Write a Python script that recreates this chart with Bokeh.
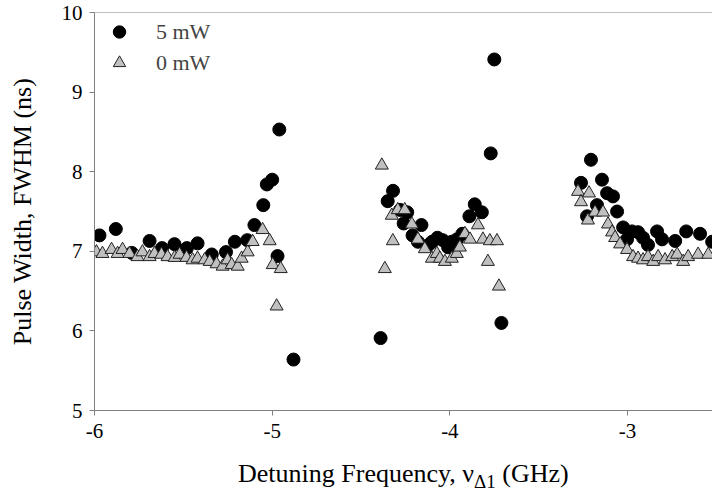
from bokeh.plotting import figure
from bokeh.models import Range1d, Span, Legend, LegendItem, FixedTicker, PrintfTickFormatter, Div
from bokeh.layouts import column
from bokeh.embed import file_html
from bokeh.resources import INLINE

# 5 mW series (circles)
x_5mw = [-5.972, -5.88, -5.79, -5.69, -5.62, -5.55, -5.48, -5.42, -5.34, -5.26,
         -5.21, -5.14, -5.10, -5.05, -5.03, -5.00, -4.96, -4.97, -4.88,
         -4.39, -4.35, -4.32, -4.28, -4.24, -4.26, -4.21, -4.18, -4.16, -4.12,
         -4.10, -4.07, -4.04, -4.01, -3.99, -3.96, -3.93, -3.89, -3.86, -3.82,
         -3.77, -3.75, -3.71,
         -3.262, -3.206, -3.228, -3.172, -3.144, -3.115, -3.082, -3.059, -3.025,
         -3.003, -2.975, -2.941, -2.913, -2.885, -2.834, -2.806, -2.732, -2.670,
         -2.592, -2.524]
y_5mw = [7.20, 7.28, 6.98, 7.13, 7.04, 7.09, 7.04, 7.10, 6.96, 6.99,
         7.12, 7.14, 7.33, 7.58, 7.84, 7.90, 8.53, 6.94, 5.64,
         5.91, 7.63, 7.76, 7.52, 7.49, 7.35, 7.20, 7.12, 7.33, 7.08,
         7.12, 7.17, 7.14, 7.05, 7.12, 7.15, 7.22, 7.44, 7.59, 7.49,
         8.23, 9.41, 6.10,
         7.86, 8.15, 7.44, 7.58, 7.90, 7.73, 7.69, 7.50, 7.30,
         7.15, 7.25, 7.24, 7.17, 7.08, 7.25, 7.15, 7.13, 7.25,
         7.22, 7.12]

# 0 mW series (triangles)
x_0mw = [-5.989, -5.955, -5.904, -5.870, -5.842, -5.803, -5.758, -5.730, -5.690, -5.662,
         -5.623, -5.589, -5.549, -5.521, -5.482, -5.448, -5.420, -5.380, -5.352, -5.313,
         -5.279, -5.251, -5.228, -5.194, -5.172, -5.138, -5.110, -5.054, -5.014, -4.997,
         -4.952, -4.975,
         -4.383, -4.366, -4.321, -4.327, -4.293, -4.254, -4.214, -4.180, -4.141, -4.101,
         -4.073, -4.056, -4.028, -3.989, -3.961, -3.944, -3.915, -3.887, -3.842, -3.814,
         -3.775, -3.735, -3.786, -3.724,
         -3.279, -3.262, -3.217, -3.223, -3.183, -3.138, -3.110, -3.087, -3.070, -3.042,
         -3.003, -2.969, -2.941, -2.913, -2.885, -2.856, -2.828, -2.789, -2.749, -2.721,
         -2.687, -2.659, -2.603, -2.546]
y_0mw = [6.99, 6.97, 7.02, 6.97, 7.02, 6.97, 6.93, 6.99, 6.93, 6.97,
         6.96, 6.93, 6.92, 6.96, 6.92, 6.89, 6.91, 6.89, 6.87, 6.84,
         6.81, 6.89, 6.83, 6.81, 6.91, 6.99, 7.12, 7.27, 7.13, 6.83,
         6.78, 6.31,
         8.08, 6.78, 7.13, 7.45, 7.52, 7.52, 7.34, 7.15, 7.03, 6.91,
         6.97, 6.91, 6.87, 6.91, 6.97, 7.05, 7.22, 7.15, 7.33, 7.15,
         7.13, 7.13, 6.87, 6.56,
         7.75, 7.62, 7.73, 7.39, 7.49, 7.49, 7.34, 7.24, 7.17, 7.09,
         7.02, 6.93, 6.91, 6.89, 6.93, 6.87, 6.93, 6.89, 6.93, 6.96,
         6.87, 6.93, 6.96, 6.96]

x_ticks = [-6, -5, -4, -3]
y_ticks = [5, 6, 7, 8, 9, 10]
series_names = ["5 mW", "0 mW"]
y_title = "Pulse Width, FWHM (ns)"

FONT = "Liberation Serif"
AXIS_GRAY = "#808080"

p = figure(width=712, height=455, output_backend="svg", toolbar_location=None,
           x_range=Range1d(-6, -2.522), y_range=Range1d(5, 10),
           min_border_left=94, min_border_right=0, min_border_top=12, min_border_bottom=45)
p.outline_line_color = None
p.grid.visible = False
p.background_fill_color = "white"
p.border_fill_color = "white"
p.margin = 0

for ax in (p.xaxis[0], p.yaxis[0]):
    ax.axis_line_color = AXIS_GRAY
    ax.major_tick_line_color = AXIS_GRAY
    ax.major_tick_in = 0
    ax.major_tick_out = 5
    ax.minor_tick_line_color = None
    ax.major_label_text_font = FONT
    ax.major_label_text_font_size = "21px"
    ax.major_label_text_color = "black"
    ax.formatter = PrintfTickFormatter(format="%d")
p.xaxis.ticker = FixedTicker(ticks=x_ticks)
p.yaxis.ticker = FixedTicker(ticks=y_ticks)
p.xaxis.major_label_standoff = 8
p.yaxis.major_label_standoff = 7

p.yaxis.axis_label = y_title
p.yaxis.axis_label_text_font = FONT
p.yaxis.axis_label_text_font_size = "26px"
p.yaxis.axis_label_text_font_style = "normal"
p.yaxis.axis_label_text_color = "black"
p.yaxis.axis_label_standoff = 22

p.add_layout(Span(location=10, dimension="width", line_color=AXIS_GRAY, line_width=1))

r5 = p.scatter(x_5mw, y_5mw, marker="circle", size=13, fill_color="black", line_color="black")
r0 = p.scatter(x_0mw, y_0mw, marker="triangle", size=13, fill_color="#c0c0c0",
               line_color="#222222", line_width=1)

legend = Legend(items=[LegendItem(label=series_names[0], renderers=[r5]),
                       LegendItem(label=series_names[1], renderers=[r0])],
                location="top_left", glyph_width=42, glyph_height=31, spacing=0,
                padding=4, margin=4, label_standoff=16,
                label_text_font=FONT, label_text_font_size="22px",
                border_line_color=None, background_fill_alpha=0)
p.add_layout(legend)

x_title = Div(
    text='Detuning Frequency, \u03bd<sub style="font-size:19px;">\u03941</sub> (GHz)',
    width=712, height=42, margin=0,
    styles={"font-family": "'Liberation Serif', serif", "font-size": "26px", "color": "black",
            "padding-left": "238px", "padding-top": "0px", "white-space": "nowrap",
            "box-sizing": "border-box", "background-color": "white"})

layout = column(p, x_title, spacing=0, margin=0)
open("out.html", "w").write(file_html(layout, INLINE))
